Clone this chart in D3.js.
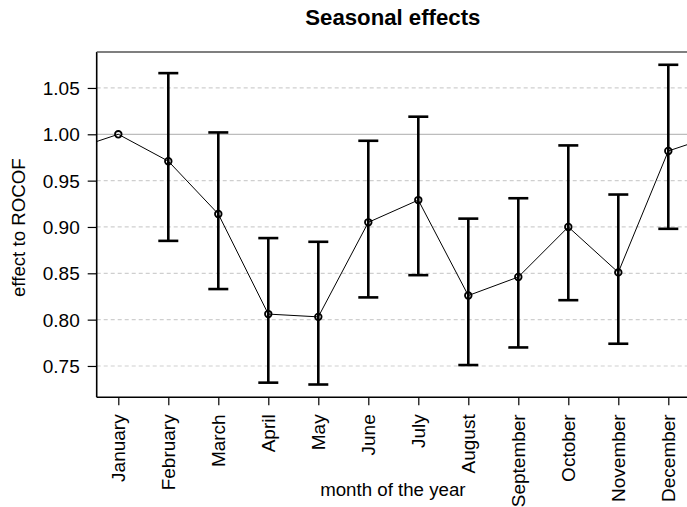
<!DOCTYPE html>
<html>
<head>
<meta charset="utf-8">
<script src="https://cdn.jsdelivr.net/npm/d3@7"></script>
<style>
  html, body { margin: 0; padding: 0; background: #fff; }
  svg { display: block; font-family: "Liberation Sans", Arial, sans-serif; }
</style>
</head>
<body>
<svg id="chart" width="687" height="507"></svg>
<script>
// Monthly effect estimates with confidence bounds (January is the reference month)
const months = ["January", "February", "March", "April", "May", "June",
                "July", "August", "September", "October", "November", "December"];
const effect = [1.000, 0.971, 0.914, 0.806, 0.803, 0.905, 0.929, 0.826, 0.846, 0.900, 0.851, 0.982];
const lower  = [null, 0.885, 0.833, 0.732, 0.730, 0.824, 0.848, 0.751, 0.770, 0.821, 0.774, 0.898];
const upper  = [null, 1.066, 1.002, 0.888, 0.884, 0.993, 1.019, 0.909, 0.931, 0.988, 0.935, 1.075];
const yTicks = [0.75, 0.80, 0.85, 0.90, 0.95, 1.00, 1.05];

const svg = d3.select("#chart");
const plot = { left: 96.7, right: 689, top: 52, bottom: 397.3 };

const x = d3.scaleLinear().domain([0, 11]).range([118.3, 668.3]);
const y = d3.scaleLinear().domain([0.7162, 1.0888]).range([plot.bottom, plot.top]);

svg.append("defs").append("clipPath").attr("id", "plotClip")
  .append("rect")
  .attr("x", plot.left).attr("y", plot.top)
  .attr("width", plot.right - plot.left).attr("height", plot.bottom - plot.top);

// Horizontal reference lines
svg.append("g").selectAll("line").data(yTicks).join("line")
  .attr("x1", plot.left).attr("x2", plot.right)
  .attr("y1", d => y(d)).attr("y2", d => y(d))
  .attr("stroke", d => d === 1 ? "#bdbdbd" : "#cfcfcf")
  .attr("stroke-width", 1.2)
  .attr("stroke-dasharray", d => d === 1 ? null : "4,3");

// Axes
const tickFont = 19;
const labelFont = 18.7;
const yAxis = svg.append("g")
  .attr("transform", `translate(${plot.left},0)`)
  .call(d3.axisLeft(y).tickValues(yTicks).tickFormat(d3.format(".2f")).tickSize(9).tickPadding(8));
const xAxis = svg.append("g")
  .attr("transform", `translate(0,${plot.bottom})`)
  .call(d3.axisBottom(x).tickValues(d3.range(12)).tickFormat(i => months[i]).tickSize(8));

[yAxis, xAxis].forEach(g => {
  g.select(".domain").remove();
  g.selectAll(".tick line").attr("stroke", "#000").attr("stroke-width", 1.2);
  g.selectAll(".tick text").attr("fill", "#000").style("font-size", tickFont + "px")
    .style("font-family", "'Liberation Sans', Arial, sans-serif");
});
yAxis.selectAll(".tick text").attr("dy", "0.35em");
xAxis.selectAll(".tick text")
  .attr("text-anchor", "end")
  .attr("dy", "0.35em")
  .attr("transform", "translate(0,17) rotate(-90)")
  .attr("x", 0).attr("y", 0);

// Plot frame
svg.append("line").attr("x1", plot.left).attr("x2", plot.left)
  .attr("y1", plot.top).attr("y2", plot.bottom)
  .attr("stroke", "#000").attr("stroke-width", 1.6);
svg.append("line").attr("x1", plot.left).attr("x2", plot.right)
  .attr("y1", plot.bottom).attr("y2", plot.bottom)
  .attr("stroke", "#000").attr("stroke-width", 1.6);
svg.append("line").attr("x1", plot.left).attr("x2", plot.right)
  .attr("y1", plot.top).attr("y2", plot.top)
  .attr("stroke", "#555").attr("stroke-width", 1.6);

// Connecting line, wrapped around the year at both ends
const wrapped = [{ i: -1, v: effect[11] }]
  .concat(effect.map((v, i) => ({ i, v })))
  .concat([{ i: 12, v: effect[0] }]);
svg.append("path")
  .datum(wrapped)
  .attr("clip-path", "url(#plotClip)")
  .attr("fill", "none").attr("stroke", "#000").attr("stroke-width", 1)
  .attr("d", d3.line().x(d => x(d.i)).y(d => y(d.v)));

// Error bars
const bars = effect.map((v, i) => ({ i, lo: lower[i], hi: upper[i] })).filter(d => d.lo !== null);
const eb = svg.append("g").attr("stroke", "#000").attr("stroke-width", 2.6);
eb.selectAll("line.v").data(bars).join("line").attr("class", "v")
  .attr("x1", d => x(d.i)).attr("x2", d => x(d.i))
  .attr("y1", d => y(d.lo)).attr("y2", d => y(d.hi));
eb.selectAll("line.hi").data(bars).join("line").attr("class", "hi")
  .attr("x1", d => x(d.i) - 10).attr("x2", d => x(d.i) + 10)
  .attr("y1", d => y(d.hi)).attr("y2", d => y(d.hi));
eb.selectAll("line.lo").data(bars).join("line").attr("class", "lo")
  .attr("x1", d => x(d.i) - 10).attr("x2", d => x(d.i) + 10)
  .attr("y1", d => y(d.lo)).attr("y2", d => y(d.lo));

// Point estimates
svg.append("g").selectAll("circle").data(effect).join("circle")
  .attr("cx", (d, i) => x(i)).attr("cy", d => y(d))
  .attr("r", 3.3)
  .attr("fill", "none").attr("stroke", "#000").attr("stroke-width", 1.8);

// Titles
svg.append("text")
  .attr("x", (plot.left + plot.right) / 2).attr("y", 25)
  .attr("text-anchor", "middle")
  .style("font-size", "22.2px").style("font-weight", "bold")
  .text("Seasonal effects");
svg.append("text")
  .attr("x", (plot.left + plot.right) / 2).attr("y", 496)
  .attr("text-anchor", "middle")
  .style("font-size", labelFont + "px")
  .text("month of the year");
svg.append("text")
  .attr("transform", `translate(25,${(plot.top + plot.bottom) / 2 + 3}) rotate(-90)`)
  .attr("text-anchor", "middle")
  .style("font-size", labelFont + "px")
  .text("effect to ROCOF");
</script>
</body>
</html>
